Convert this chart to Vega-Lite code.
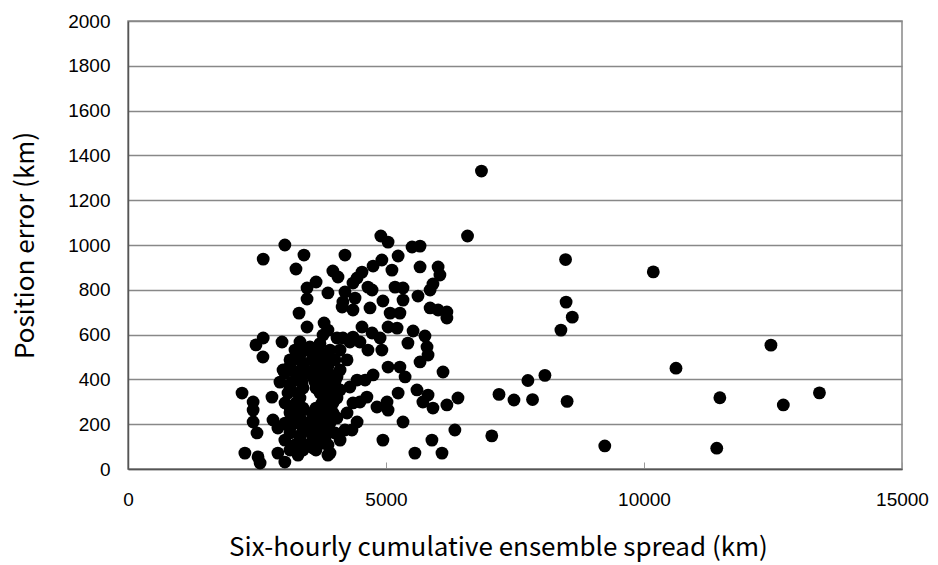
{
  "$schema": "https://vega.github.io/schema/vega-lite/v6.json",
  "width": 774,
  "height": 448,
  "autosize": {"type": "none"},
  "padding": {"left": 128, "top": 21, "right": 36, "bottom": 96},
  "background": "white",
  "config": {
    "view": {"stroke": "#888888", "strokeWidth": 1.5},
    "axis": {"labelFont": "Liberation Sans", "labelFontSize": 19, "labelColor": "#000000", "titleFont": "Noto Sans CJK JP", "titleFontWeight": "normal", "titleFontSize": 26, "titleColor": "#000000"}
  },
  "data": {
    "values": [
      {"spread": 6850, "error": 1330}, {"spread": 6580, "error": 1040}, {"spread": 8480, "error": 935}, {"spread": 10180, "error": 880},
      {"spread": 8490, "error": 745}, {"spread": 8610, "error": 678}, {"spread": 8390, "error": 620}, {"spread": 10620, "error": 450},
      {"spread": 12460, "error": 553}, {"spread": 8080, "error": 418}, {"spread": 7750, "error": 395}, {"spread": 7190, "error": 333},
      {"spread": 7480, "error": 308}, {"spread": 7840, "error": 310}, {"spread": 8510, "error": 302}, {"spread": 11470, "error": 318},
      {"spread": 12700, "error": 286}, {"spread": 13400, "error": 340}, {"spread": 7050, "error": 148}, {"spread": 9240, "error": 103},
      {"spread": 11410, "error": 93},
      {"spread": 3040, "error": 1000}, {"spread": 2620, "error": 937}, {"spread": 3410, "error": 955}, {"spread": 3255, "error": 893},
      {"spread": 4205, "error": 955}, {"spread": 3970, "error": 884}, {"spread": 4070, "error": 857}, {"spread": 3645, "error": 835},
      {"spread": 3470, "error": 808}, {"spread": 3875, "error": 786}, {"spread": 4205, "error": 790}, {"spread": 3470, "error": 759},
      {"spread": 4150, "error": 723}, {"spread": 3315, "error": 696}, {"spread": 3470, "error": 634}, {"spread": 3800, "error": 652},
      {"spread": 3875, "error": 620}, {"spread": 4050, "error": 585}, {"spread": 2620, "error": 585}, {"spread": 4900, "error": 1040},
      {"spread": 5040, "error": 1013}, {"spread": 5505, "error": 991}, {"spread": 5660, "error": 995}, {"spread": 5235, "error": 951},
      {"spread": 4920, "error": 933}, {"spread": 4750, "error": 906}, {"spread": 5660, "error": 902}, {"spread": 6010, "error": 902},
      {"spread": 6045, "error": 866}, {"spread": 4535, "error": 879}, {"spread": 4440, "error": 853}, {"spread": 5115, "error": 888},
      {"spread": 5910, "error": 826}, {"spread": 5855, "error": 799}, {"spread": 5620, "error": 772}, {"spread": 5175, "error": 812},
      {"spread": 5330, "error": 808}, {"spread": 4730, "error": 799}, {"spread": 4400, "error": 763}, {"spread": 4940, "error": 750},
      {"spread": 5330, "error": 754}, {"spread": 4690, "error": 719}, {"spread": 5080, "error": 696}, {"spread": 5270, "error": 696},
      {"spread": 5855, "error": 719}, {"spread": 6010, "error": 710}, {"spread": 6180, "error": 701}, {"spread": 6180, "error": 674},
      {"spread": 5040, "error": 634}, {"spread": 5215, "error": 629}, {"spread": 5525, "error": 616}, {"spread": 5755, "error": 594},
      {"spread": 4535, "error": 634}, {"spread": 4360, "error": 589}, {"spread": 4730, "error": 607}, {"spread": 4165, "error": 585},
      {"spread": 4885, "error": 585}, {"spread": 4360, "error": 710}, {"spread": 4360, "error": 830}, {"spread": 4650, "error": 812},
      {"spread": 3780, "error": 598}, {"spread": 2985, "error": 567}, {"spread": 3525, "error": 545}, {"spread": 2480, "error": 554},
      {"spread": 4165, "error": 745},
      {"spread": 4300, "error": 567}, {"spread": 4495, "error": 567}, {"spread": 4920, "error": 531}, {"spread": 5425, "error": 562},
      {"spread": 5795, "error": 545}, {"spread": 5660, "error": 478}, {"spread": 5815, "error": 509}, {"spread": 5040, "error": 455},
      {"spread": 5270, "error": 455}, {"spread": 5370, "error": 411}, {"spread": 6105, "error": 433}, {"spread": 4245, "error": 487},
      {"spread": 4110, "error": 442}, {"spread": 4595, "error": 397}, {"spread": 4750, "error": 420}, {"spread": 4300, "error": 366},
      {"spread": 4110, "error": 353}, {"spread": 5600, "error": 353}, {"spread": 5815, "error": 330}, {"spread": 5910, "error": 272},
      {"spread": 5715, "error": 299}, {"spread": 5235, "error": 339}, {"spread": 5020, "error": 299}, {"spread": 4825, "error": 277},
      {"spread": 5040, "error": 263}, {"spread": 4495, "error": 299}, {"spread": 6395, "error": 317}, {"spread": 6180, "error": 286},
      {"spread": 4245, "error": 250}, {"spread": 5330, "error": 210}, {"spread": 6335, "error": 174}, {"spread": 4440, "error": 210},
      {"spread": 4205, "error": 174}, {"spread": 4110, "error": 129}, {"spread": 4940, "error": 129}, {"spread": 5890, "error": 129},
      {"spread": 5560, "error": 71}, {"spread": 6085, "error": 71}, {"spread": 3875, "error": 62}, {"spread": 3780, "error": 116},
      {"spread": 4340, "error": 174}, {"spread": 4440, "error": 397}, {"spread": 4630, "error": 321}, {"spread": 4360, "error": 295},
      {"spread": 4650, "error": 531},
      {"spread": 2615, "error": 500}, {"spread": 3005, "error": 442}, {"spread": 2945, "error": 388}, {"spread": 2210, "error": 339},
      {"spread": 2425, "error": 299}, {"spread": 2425, "error": 263}, {"spread": 2425, "error": 210}, {"spread": 2500, "error": 161},
      {"spread": 2790, "error": 321}, {"spread": 2810, "error": 219}, {"spread": 2905, "error": 183}, {"spread": 2265, "error": 71},
      {"spread": 2520, "error": 54}, {"spread": 2560, "error": 27}, {"spread": 2905, "error": 71}, {"spread": 3040, "error": 31},
      {"spread": 3295, "error": 62}, {"spread": 3915, "error": 71}, {"spread": 3585, "error": 94}, {"spread": 3040, "error": 129},
      {"spread": 3040, "error": 429},
      {"spread": 3236, "error": 531}, {"spread": 3430, "error": 531}, {"spread": 3682, "error": 531}, {"spread": 3915, "error": 531},
      {"spread": 4109, "error": 531}, {"spread": 3140, "error": 487}, {"spread": 3333, "error": 487}, {"spread": 3566, "error": 487},
      {"spread": 3760, "error": 487}, {"spread": 4011, "error": 487}, {"spread": 3236, "error": 433}, {"spread": 3488, "error": 433},
      {"spread": 3682, "error": 433}, {"spread": 3876, "error": 433}, {"spread": 3178, "error": 388}, {"spread": 3372, "error": 388},
      {"spread": 3624, "error": 388}, {"spread": 3818, "error": 388}, {"spread": 4011, "error": 388}, {"spread": 3101, "error": 339},
      {"spread": 3295, "error": 339}, {"spread": 3721, "error": 339}, {"spread": 3915, "error": 339}, {"spread": 3043, "error": 295},
      {"spread": 3256, "error": 295}, {"spread": 3760, "error": 295}, {"spread": 3973, "error": 295}, {"spread": 3140, "error": 250},
      {"spread": 3333, "error": 250}, {"spread": 3566, "error": 250}, {"spread": 3760, "error": 250}, {"spread": 3973, "error": 250},
      {"spread": 3043, "error": 205}, {"spread": 3236, "error": 205}, {"spread": 3469, "error": 205}, {"spread": 3682, "error": 205},
      {"spread": 3915, "error": 205}, {"spread": 3140, "error": 161}, {"spread": 3372, "error": 161}, {"spread": 3566, "error": 161},
      {"spread": 3760, "error": 161}, {"spread": 4011, "error": 161}, {"spread": 3236, "error": 107}, {"spread": 3430, "error": 107},
      {"spread": 3624, "error": 107}, {"spread": 3876, "error": 107}, {"spread": 3333, "error": 567}, {"spread": 3720, "error": 560},
      {"spread": 3333, "error": 509}, {"spread": 3585, "error": 509}, {"spread": 3818, "error": 509},
      {"spread": 3140, "error": 460}, {"spread": 3392, "error": 460}, {"spread": 3643, "error": 460}, {"spread": 3876, "error": 460},
      {"spread": 3333, "error": 411}, {"spread": 3585, "error": 411}, {"spread": 3818, "error": 411}, {"spread": 4050, "error": 411},
      {"spread": 3140, "error": 362}, {"spread": 3392, "error": 362}, {"spread": 3643, "error": 362}, {"spread": 3876, "error": 362},
      {"spread": 3333, "error": 317}, {"spread": 3818, "error": 317}, {"spread": 4050, "error": 317},
      {"spread": 3140, "error": 272}, {"spread": 3392, "error": 272}, {"spread": 3643, "error": 272}, {"spread": 3876, "error": 272},
      {"spread": 3333, "error": 228}, {"spread": 3585, "error": 228}, {"spread": 3818, "error": 228}, {"spread": 4050, "error": 228},
      {"spread": 3140, "error": 183}, {"spread": 3392, "error": 183}, {"spread": 3643, "error": 183}, {"spread": 3876, "error": 183},
      {"spread": 3333, "error": 134}, {"spread": 3585, "error": 134}, {"spread": 3818, "error": 134},
      {"spread": 3140, "error": 85}, {"spread": 3392, "error": 85}, {"spread": 3643, "error": 85}
    ]
  },
  "mark": {"type": "circle", "size": 165, "color": "#000000", "opacity": 1},
  "encoding": {
    "x": {
      "field": "spread", "type": "quantitative",
      "scale": {"domain": [0, 15000], "nice": false},
      "axis": {"values": [0, 5000, 10000, 15000], "format": "d", "grid": false, "domainColor": "#555555", "domainWidth": 1.5, "tickColor": "#999999", "tickSize": -7, "labelPadding": 28, "labelFlush": false, "title": "Six-hourly cumulative ensemble spread (km)", "titlePadding": 25, "titleX": 370}
    },
    "y": {
      "field": "error", "type": "quantitative",
      "scale": {"domain": [0, 2000], "nice": false},
      "axis": {"values": [0, 200, 400, 600, 800, 1000, 1200, 1400, 1600, 1800, 2000], "format": "d", "grid": true, "gridColor": "#888888", "gridWidth": 1.5, "domainColor": "#555555", "domainWidth": 1.5, "ticks": false, "labelPadding": 18, "title": "Position error (km)", "titlePadding": 29}
    }
  }
}
